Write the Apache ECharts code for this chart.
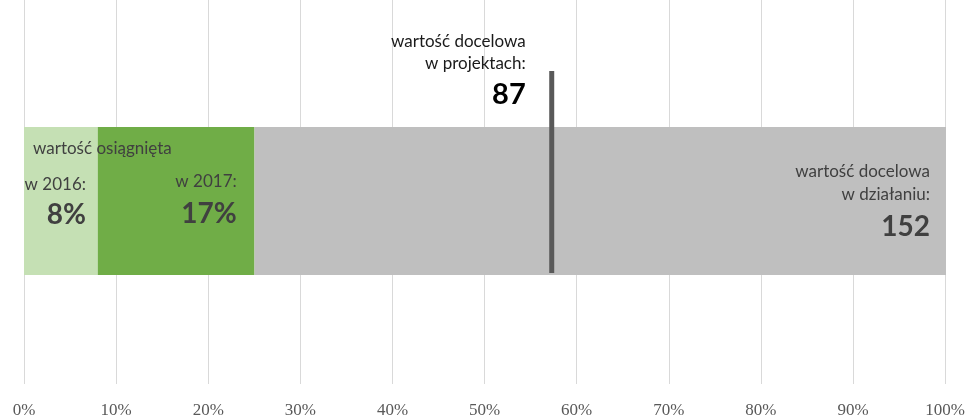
<!DOCTYPE html>
<html>
<head>
<meta charset="utf-8">
<script src="https://cdn.jsdelivr.net/npm/echarts@6/dist/echarts.min.js"></script>
<style>
  html, body { margin: 0; padding: 0; background: #fff; }
  #chart { width: 968px; height: 419px; }
</style>
</head>
<body>
<div id="chart"></div>
<script>
// dane wskaźnika
var achieved2016 = 8;          // % wartości docelowej
var achieved2017 = 17;         // % przyrost w 2017
var targetProjects = 87;       // wartość docelowa w projektach
var targetAction = 152;        // wartość docelowa w działaniu (=100%)
var xTicks = [0, 10, 20, 30, 40, 50, 60, 70, 80, 90, 100];

var txt = '#404040';
var font = 'Lato';
var rest = 100 - achieved2016 - achieved2017;
var markerPct = targetProjects / targetAction * 100;

var myChart = echarts.init(document.getElementById('chart'));
var option = {
    animation: false,
    textStyle: { fontFamily: font },
    title: {
        text: 'wartość osiągnięta',
        left: 33, top: 140, padding: 0,
        textStyle: { fontFamily: font, fontSize: 17, fontWeight: 'normal', color: txt }
    },
    grid: [
        { left: 24, right: 22, top: 0, height: 386 },   // siatka i oś
        { left: 24, right: 22, top: 127, height: 148 }  // pasek
    ],
    xAxis: [
        {
            gridIndex: 0, type: 'value', min: 0, max: 100, interval: 10,
            axisLine: { show: false },
            axisTick: { show: false },
            splitLine: { lineStyle: { color: '#D9D9D9', width: 1 } },
            axisLabel: {
                margin: 18,
                fontFamily: 'Liberation Serif', fontSize: 17, color: '#595959',
                formatter: function (v) { return xTicks.indexOf(v) > -1 ? v + '%' : ''; }
            }
        },
        {
            gridIndex: 1, type: 'value', min: 0, max: 100, show: false
        }
    ],
    yAxis: [
        { gridIndex: 0, type: 'value', show: false },
        { gridIndex: 1, type: 'category', data: ['wskaźnik'], show: false }
    ],
    series: [
        {
            name: 'w 2016', type: 'bar', stack: 'a', xAxisIndex: 1, yAxisIndex: 1,
            barWidth: '100%', data: [achieved2016],
            itemStyle: { color: '#C5E0B4' },
            label: {
                show: true, position: [62, 47], align: 'right', verticalAlign: 'top',
                formatter: '{a|w 2016:}\n{b|' + achieved2016 + '%}',
                rich: {
                    a: { fontFamily: font, fontSize: 17, lineHeight: 22, color: txt, align: 'right' },
                    b: { fontFamily: font, fontSize: 28, fontWeight: 'bold', lineHeight: 38, color: txt, align: 'right' }
                }
            }
        },
        {
            name: 'w 2017', type: 'bar', stack: 'a', xAxisIndex: 1, yAxisIndex: 1,
            barWidth: '100%', data: [achieved2017],
            itemStyle: { color: '#70AD47' },
            label: {
                show: true, position: [139, 44], align: 'right', verticalAlign: 'top',
                formatter: '{a|w 2017:}\n{b|' + achieved2017 + '%}',
                rich: {
                    a: { fontFamily: font, fontSize: 17, lineHeight: 22, color: txt, align: 'right' },
                    b: { fontFamily: font, fontSize: 28, fontWeight: 'bold', lineHeight: 42, color: txt, align: 'right' }
                }
            }
        },
        {
            name: 'reszta', type: 'bar', stack: 'a', xAxisIndex: 1, yAxisIndex: 1,
            barWidth: '100%', data: [rest],
            itemStyle: { color: '#BFBFBF' },
            label: {
                show: true, position: ['100%', 33], offset: [-16, 0], align: 'right', verticalAlign: 'top',
                formatter: '{a|wartość docelowa}\n{a|w działaniu:}\n{b|' + targetAction + '}',
                rich: {
                    a: { fontFamily: font, fontSize: 17, lineHeight: 23, color: txt, align: 'right' },
                    b: { fontFamily: font, fontSize: 28, fontWeight: 'bold', lineHeight: 41, color: txt, align: 'right' }
                }
            }
        },
        {
            name: 'w projektach', type: 'custom', xAxisIndex: 1, yAxisIndex: 1,
            data: [[markerPct, 0]],
            z: 5,
            renderItem: function (params, api) {
                var p = api.coord([api.value(0), 0]);
                var h = api.size([0, 1])[1];
                var top = p[1] - h / 2;
                return {
                    type: 'group',
                    children: [
                        {
                            type: 'rect',
                            shape: { x: p[0] - 2.5, y: top - 56, width: 5, height: h + 54 },
                            style: { fill: '#595959' }
                        },
                        {
                            type: 'text',
                            style: {
                                x: p[0] - 26, y: top - 96,
                                align: 'right', verticalAlign: 'top',
                                text: '{a|wartość docelowa}\n{a|w projektach:}\n{b|' + targetProjects + '}',
                                rich: {
                                    a: { fontFamily: font, fontSize: 17, lineHeight: 22, fill: '#1a1a1a', align: 'right' },
                                    b: { fontFamily: font, fontSize: 29, fontWeight: 'bold', lineHeight: 39, fill: '#000', align: 'right' }
                                }
                            }
                        }
                    ]
                };
            }
        }
    ]
};
myChart.setOption(option);
</script>
</body>
</html>
